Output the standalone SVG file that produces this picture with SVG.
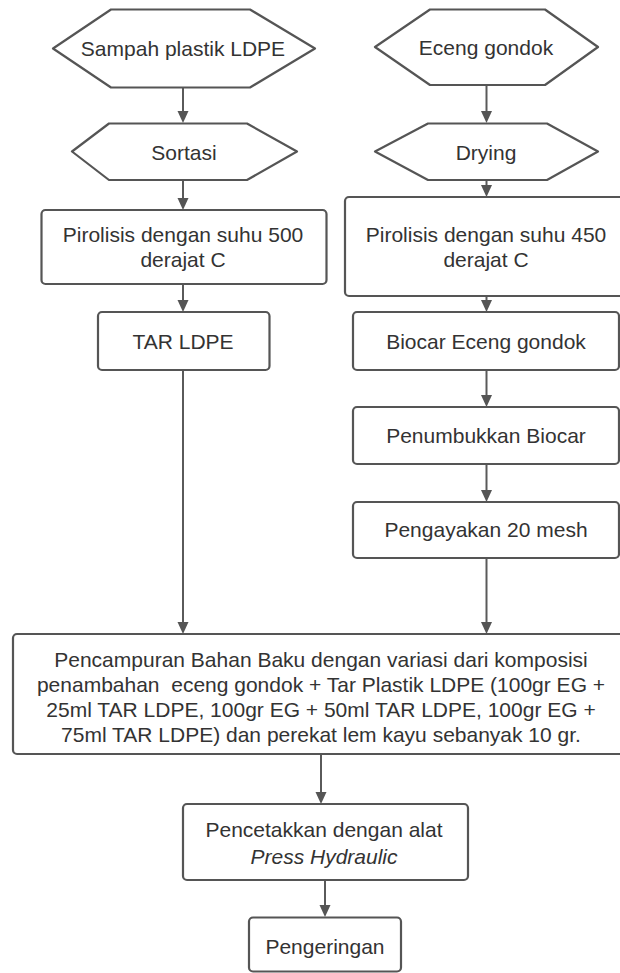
<svg xmlns="http://www.w3.org/2000/svg" width="620" height="973" viewBox="0 0 620 973">
<defs>
<style>
.shape{fill:#ffffff;stroke:#555555;stroke-width:2.2;stroke-linejoin:round}
.t{font-family:"Liberation Sans",Arial,sans-serif;font-size:21px;fill:#333333;text-anchor:middle}
.it{font-style:italic}
.conn{stroke:#5a5a5a;stroke-width:2;fill:none}
</style>
<marker id="ah" viewBox="0 0 12 12" refX="6" refY="6" markerWidth="12" markerHeight="12" markerUnits="userSpaceOnUse" orient="auto">
<path d="M0,0.5 L12,6 L0,11.5 z" fill="#555555"/>
</marker>
</defs>
<rect width="620" height="973" fill="#ffffff"/>

<g id="connectors">
<line class="conn" x1="183" y1="87.5" x2="183" y2="117" marker-end="url(#ah)"/>
<line class="conn" x1="486.5" y1="85" x2="486.5" y2="117" marker-end="url(#ah)"/>
<line class="conn" x1="183" y1="180" x2="183" y2="204" marker-end="url(#ah)"/>
<line class="conn" x1="486.5" y1="180" x2="486.5" y2="191" marker-end="url(#ah)"/>
<line class="conn" x1="183" y1="284" x2="183" y2="306" marker-end="url(#ah)"/>
<line class="conn" x1="486.5" y1="296" x2="486.5" y2="306" marker-end="url(#ah)"/>
<line class="conn" x1="486.5" y1="370" x2="486.5" y2="401" marker-end="url(#ah)"/>
<line class="conn" x1="486.5" y1="464" x2="486.5" y2="496" marker-end="url(#ah)"/>
<line class="conn" x1="183" y1="370" x2="183" y2="628" marker-end="url(#ah)"/>
<line class="conn" x1="486.5" y1="558" x2="486.5" y2="628" marker-end="url(#ah)"/>
<line class="conn" x1="321" y1="754" x2="321" y2="798" marker-end="url(#ah)"/>
<line class="conn" x1="325" y1="880" x2="325" y2="911" marker-end="url(#ah)"/>
</g>

<g id="n-sampah">
<path class="shape" d="M53,48.5 L111,9.5 L250,9.5 L315,48.5 L250,87.5 L111,87.5 Z"/>
<text class="t" x="183" y="56">Sampah plastik LDPE</text>
</g>
<g id="n-eceng">
<path class="shape" d="M375,47 L430,9.5 L545,9.5 L598,47 L545,85 L430,85 Z"/>
<text class="t" x="486" y="55">Eceng gondok</text>
</g>
<g id="n-sortasi">
<path class="shape" d="M72,151.5 L109,123.5 L247,123.5 L297,151.5 L247,180 L109,180 Z"/>
<text class="t" x="184" y="159.5">Sortasi</text>
</g>
<g id="n-drying">
<path class="shape" d="M375,151.5 L428,123.5 L547,123.5 L598,151.5 L547,180 L428,180 Z"/>
<text class="t" x="486" y="159.5">Drying</text>
</g>
<g id="n-pir500">
<rect class="shape" x="41.5" y="210" width="285" height="74" rx="4"/>
<text class="t" x="183" y="241.5">Pirolisis dengan suhu 500</text>
<text class="t" x="183" y="266.5">derajat C</text>
</g>
<g id="n-pir450">
<rect class="shape" x="345" y="197" width="283" height="99" rx="4"/>
<text class="t" x="486" y="241.5">Pirolisis dengan suhu 450</text>
<text class="t" x="486" y="266.5">derajat C</text>
</g>
<g id="n-tar">
<rect class="shape" x="98" y="312" width="171.5" height="58" rx="4"/>
<text class="t" x="183" y="349">TAR LDPE</text>
</g>
<g id="n-biocar">
<rect class="shape" x="353" y="312" width="266" height="58" rx="4"/>
<text class="t" x="486" y="349">Biocar Eceng gondok</text>
</g>
<g id="n-penumbukkan">
<rect class="shape" x="353" y="407" width="266" height="57" rx="4"/>
<text class="t" x="486" y="443">Penumbukkan Biocar</text>
</g>
<g id="n-pengayakan">
<rect class="shape" x="353" y="502" width="266" height="56" rx="4"/>
<text class="t" x="486" y="537">Pengayakan 20 mesh</text>
</g>
<g id="n-pencampuran">
<rect class="shape" x="13" y="634" width="616" height="120" rx="4"/>
<text class="t" x="321" y="666.5">Pencampuran Bahan Baku dengan variasi dari komposisi</text>
<text class="t" x="321" y="691.5" xml:space="preserve">penambahan  eceng gondok + Tar Plastik LDPE (100gr EG +</text>
<text class="t" x="321" y="716.5">25ml TAR LDPE, 100gr EG + 50ml TAR LDPE, 100gr EG +</text>
<text class="t" x="321" y="741.5">75ml TAR LDPE) dan perekat lem kayu sebanyak 10 gr.</text>
</g>
<g id="n-pencetakkan">
<rect class="shape" x="183" y="804" width="285" height="76" rx="4"/>
<text class="t" x="324" y="836.5">Pencetakkan dengan alat</text>
<text class="t it" x="324" y="863.5">Press Hydraulic</text>
</g>
<g id="n-pengeringan">
<rect class="shape" x="249" y="917.5" width="152" height="54" rx="4"/>
<text class="t" x="325" y="954">Pengeringan</text>
</g>
</svg>
